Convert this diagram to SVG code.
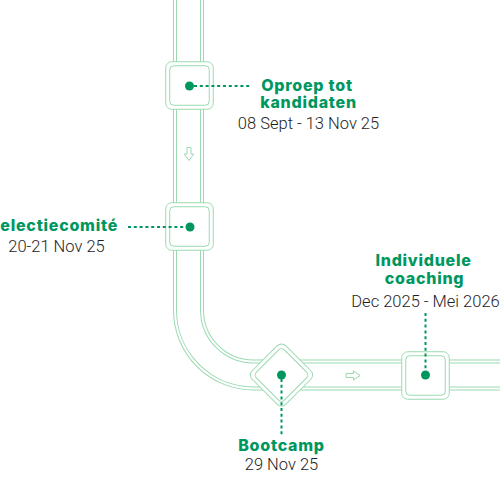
<svg xmlns="http://www.w3.org/2000/svg" width="500" height="500" viewBox="0 0 500 500">
<style>
.trk{fill:none;stroke-linejoin:round}
.n{fill:#fff;stroke:#9bdab0;stroke-width:1}
.dot{fill:#00975f}
.lead{fill:none;stroke:#00975f;stroke-width:2;stroke-dasharray:3 2.8}
.arr{fill:none;stroke:#9bdab0;stroke-width:1;stroke-linejoin:miter}
.h{font-family:Inter,"Noto Sans",sans-serif;font-weight:800;font-size:16px;letter-spacing:0.75px;fill:#00975f}
.d{font-family:Roboto,"Liberation Sans",sans-serif;font-weight:300;font-size:16.5px;fill:#1e1e1e}
</style>
<defs>
<path id="track" d="M188.5 0 V310 A65 65 0 0 0 253.5 375 H500"/>
<g id="sq">
<rect x="-23.75" y="-23.75" width="47.5" height="47.5" rx="6" class="n"/>
<rect x="-19.75" y="-19.75" width="39.5" height="39.5" rx="4" class="n"/>
</g>
</defs>
<g id="connectors">
<use href="#track" class="trk" stroke="#9bdab0" stroke-width="31"/>
<use href="#track" class="trk" stroke="#fff" stroke-width="29"/>
<use href="#track" class="trk" stroke="#9bdab0" stroke-width="25"/>
<use href="#track" class="trk" stroke="#fff" stroke-width="23"/>
<path class="arr" d="M187 147.5 H191 V154 H193.8 L189 160.5 L184.2 154 H187 Z"/>
<path class="arr" d="M346 373.5 H353.5 V371 L360 375.5 L353.5 380 V377.5 H346 Z"/>
</g>
<g id="node-oproep">
<use href="#sq" x="189.5" y="85.5"/>
<line class="lead" x1="194" y1="86" x2="252" y2="86"/>
<circle class="dot" cx="189.5" cy="86" r="4.5"/>
<text class="h" x="307" y="90.5" text-anchor="middle">Oproep tot</text>
<text class="h" x="308.5" y="107.5" text-anchor="middle">kandidaten</text>
<text class="d" x="308.5" y="128.5" text-anchor="middle">08 Sept - 13 Nov 25</text>
</g>
<g id="node-selectie">
<use href="#sq" x="189.5" y="226.5"/>
<line class="lead" x1="128" y1="227" x2="186" y2="227"/>
<circle class="dot" cx="190" cy="227" r="4.5"/>
<text class="h" x="118" y="230.5" text-anchor="end">Selectiecomité</text>
<text class="d" x="56.5" y="251.5" text-anchor="middle">20-21 Nov 25</text>
</g>
<g id="node-bootcamp">
<use href="#sq" transform="translate(281.5 375) rotate(45)"/>
<line class="lead" x1="281.5" y1="379" x2="281.5" y2="437"/>
<circle class="dot" cx="281.5" cy="375" r="4.5"/>
<text class="h" x="281.5" y="451" text-anchor="middle">Bootcamp</text>
<text class="d" x="281.5" y="470" text-anchor="middle">29 Nov 25</text>
</g>
<g id="node-coaching">
<use href="#sq" x="425.5" y="375.5"/>
<line class="lead" x1="425.5" y1="313" x2="425.5" y2="371"/>
<circle class="dot" cx="425.5" cy="375" r="4.5"/>
<text class="h" x="423.5" y="266" text-anchor="middle">Individuele</text>
<text class="h" x="424.5" y="283.5" text-anchor="middle">coaching</text>
<text class="d" x="425.5" y="306.5" text-anchor="middle">Dec 2025 - Mei 2026</text>
</g>
</svg>
